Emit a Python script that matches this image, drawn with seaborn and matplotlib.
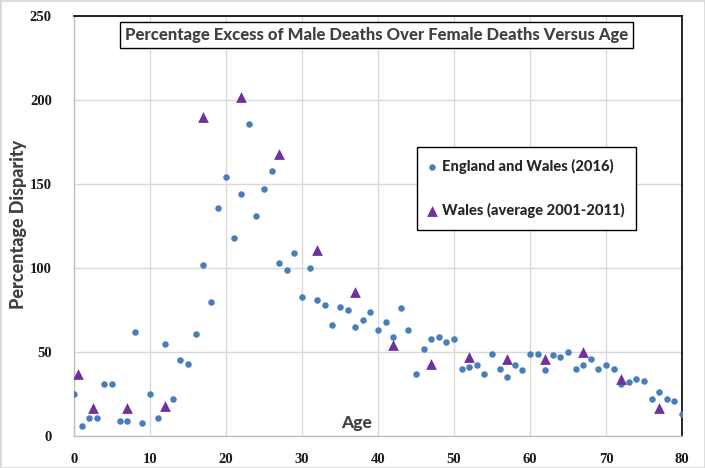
import numpy as np
import pandas as pd
import matplotlib
matplotlib.use("Agg")
import matplotlib.pyplot as plt
import seaborn as sns
from matplotlib.patches import Rectangle

# England and Wales (2016): single years of age 0..80
ew_age = list(range(0, 81))
ew_pct = [25, 6, 11, 11, 31, 31, 9, 9, 62, 8,
          25, 11, 55, 22, 45, 43, 61, 102, 80, 136,
          154, 118, 144, 186, 131, 147, 158, 103, 99, 109,
          83, 100, 81, 78, 66, 77, 75, 65, 69, 74,
          63, 68, 59, 76, 63, 37, 52, 58, 59, 56,
          58, 40, 41, 42, 37, 49, 40, 35, 42, 39,
          49, 49, 39, 48, 47, 50, 40, 42, 46, 40,
          42, 40, 31, 32, 34, 33, 22, 26, 22, 21,
          13]

# Wales (average 2001-2011): age-group midpoints
wa_age = [0.5, 2.5, 7, 12, 17, 22, 27, 32, 37, 42, 47, 52, 57, 62, 67, 72, 77]
wa_pct = [37, 16.5, 16.5, 18, 190, 202, 168, 111, 86, 54, 43, 47, 46, 46, 50, 34, 16.5]

x_ticks = list(range(0, 81, 10))
y_ticks = list(range(0, 251, 50))

sns.set_style("white")
label_font = ["Lato", "DejaVu Sans"]
heavy = "black"
tick_font = ["Liberation Serif", "DejaVu Serif"]
tick_style = dict(fontfamily=tick_font, fontweight="bold", fontsize=10.5, color="#1a1a1a")

fig = plt.figure(figsize=(7.05, 4.68), dpi=100)
ax = fig.add_axes([0.105, 0.0684, 0.8624, 0.8974])

sns.scatterplot(x=ew_age, y=ew_pct, ax=ax, marker="o", s=22, color="#4a7ebb",
                linewidth=0, label="England and Wales (2016)", zorder=3)
sns.scatterplot(x=wa_age, y=wa_pct, ax=ax, marker="^", s=60, color="#7030a0",
                linewidth=0, label="Wales (average 2001-2011)", zorder=4)

ax.set_xlim(0, 80)
ax.set_ylim(0, 250)
ax.set_xticks(x_ticks, [str(t) for t in x_ticks], **tick_style)
ax.set_yticks(y_ticks, [str(t) for t in y_ticks], **tick_style)
ax.grid(True, color="#d9d9d9", linewidth=1)
ax.set_axisbelow(True)
for side in ["left", "bottom"]:
    ax.spines[side].set_color("#bfbfbf")
    ax.spines[side].set_linewidth(1)
for side in ["top", "right"]:
    ax.spines[side].set_color("black")
    ax.spines[side].set_linewidth(1.2)
ax.tick_params(axis="x", length=0, pad=12)
ax.tick_params(axis="y", length=0, pad=16)

ax.set_xlabel("Age", family=label_font, fontsize=12.5, fontweight=heavy, color="#404040")
ax.xaxis.set_label_coords(0.465, 0.031)
ax.xaxis.label.set_va("center")
ax.set_ylabel("Percentage Disparity", family=label_font, fontsize=13,
              fontweight=heavy, color="#404040")
ax.yaxis.set_label_coords(-0.092, 0.505)
ax.yaxis.label.set_va("center")

ax.text(0.497, 0.955, "Percentage Excess of Male Deaths Over Female Deaths Versus Age",
        transform=ax.transAxes, ha="center", va="center", family=label_font,
        fontsize=12, fontweight=heavy, color="#404040",
        bbox=dict(boxstyle="square,pad=0.3", fc="white", ec="black", lw=1))

leg = ax.legend(loc="upper left", bbox_to_anchor=(0.564, 0.688), frameon=True,
                fancybox=False, edgecolor="black", framealpha=1,
                prop={"family": label_font, "weight": heavy, "size": 10.6},
                labelspacing=2.0, handlelength=0.5, handletextpad=0.4,
                borderpad=0.8, borderaxespad=0)
leg.get_frame().set_linewidth(1)

fig.add_artist(Rectangle((0, 0), 1, 1, transform=fig.transFigure, fill=False,
                         edgecolor="#d9d9d9", linewidth=2))

fig.savefig("out.png", dpi=100)
